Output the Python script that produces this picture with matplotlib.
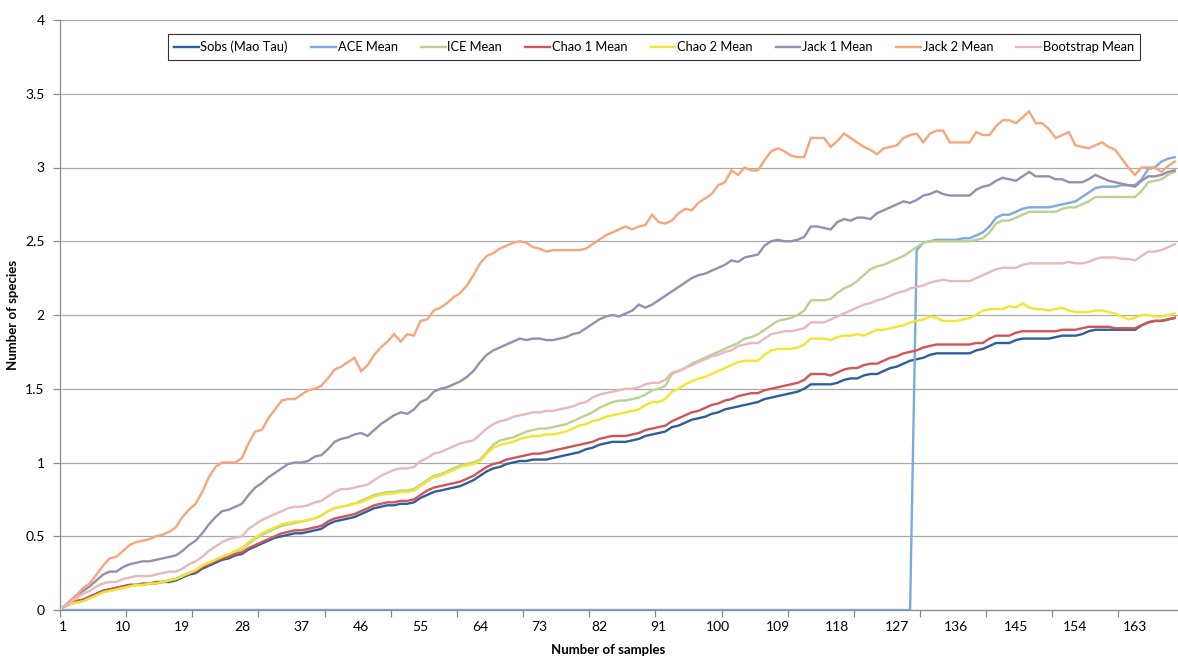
import numpy as np
import matplotlib
matplotlib.use("Agg")
import matplotlib.pyplot as plt
from matplotlib.ticker import FixedLocator, FixedFormatter

plt.rcParams['font.family'] = ['Lato', 'DejaVu Sans']

samples = np.arange(1, 170)

sobs = [
    0.02, 0.04, 0.06, 0.07, 0.09, 0.11, 0.13, 0.14, 0.15, 0.16,
    0.17, 0.17, 0.17, 0.18, 0.18, 0.19, 0.19, 0.20, 0.22, 0.24,
    0.25, 0.28, 0.30, 0.32, 0.34, 0.35, 0.37, 0.38, 0.41, 0.43,
    0.45, 0.47, 0.49, 0.50, 0.51, 0.52, 0.52, 0.53, 0.54, 0.55,
    0.58, 0.60, 0.61, 0.62, 0.63, 0.65, 0.67, 0.69, 0.70, 0.71,
    0.71, 0.72, 0.72, 0.73, 0.76, 0.78, 0.80, 0.81, 0.82, 0.83,
    0.84, 0.86, 0.88, 0.91, 0.94, 0.96, 0.97, 0.99, 1.00, 1.01,
    1.01, 1.02, 1.02, 1.02, 1.03, 1.04, 1.05, 1.06, 1.07, 1.09,
    1.10, 1.12, 1.13, 1.14, 1.14, 1.14, 1.15, 1.16, 1.18, 1.19,
    1.20, 1.21, 1.24, 1.25, 1.27, 1.29, 1.30, 1.31, 1.33, 1.34,
    1.36, 1.37, 1.38, 1.39, 1.40, 1.41, 1.43, 1.44, 1.45, 1.46,
    1.47, 1.48, 1.50, 1.53, 1.53, 1.53, 1.53, 1.54, 1.56, 1.57,
    1.57, 1.59, 1.60, 1.60, 1.62, 1.64, 1.65, 1.67, 1.69, 1.70,
    1.71, 1.73, 1.74, 1.74, 1.74, 1.74, 1.74, 1.74, 1.76, 1.77,
    1.79, 1.81, 1.81, 1.81, 1.83, 1.84, 1.84, 1.84, 1.84, 1.84,
    1.85, 1.86, 1.86, 1.86, 1.87, 1.89, 1.90, 1.90, 1.90, 1.90,
    1.90, 1.90, 1.90, 1.93, 1.95, 1.96, 1.96, 1.97, 1.98,
]

ace = [0.0] * 129 + [
    2.44,
    2.49, 2.50, 2.51, 2.51, 2.51, 2.51, 2.52, 2.52, 2.54, 2.56,
    2.60, 2.66, 2.68, 2.68, 2.70, 2.72, 2.73, 2.73, 2.73, 2.73,
    2.74, 2.75, 2.76, 2.77, 2.80, 2.83, 2.86, 2.87, 2.87, 2.87,
    2.88, 2.88, 2.88, 2.92, 2.99, 3.00, 3.04, 3.06, 3.07,
]

ice = [
    0.02, 0.04, 0.05, 0.06, 0.08, 0.10, 0.12, 0.13, 0.14, 0.15,
    0.16, 0.17, 0.17, 0.18, 0.18, 0.19, 0.20, 0.21, 0.23, 0.25,
    0.27, 0.30, 0.32, 0.34, 0.36, 0.37, 0.39, 0.41, 0.45, 0.48,
    0.51, 0.53, 0.55, 0.57, 0.58, 0.59, 0.60, 0.61, 0.62, 0.64,
    0.67, 0.69, 0.70, 0.71, 0.72, 0.74, 0.76, 0.78, 0.79, 0.80,
    0.80, 0.81, 0.81, 0.82, 0.85, 0.88, 0.91, 0.92, 0.94, 0.96,
    0.98, 0.99, 1.00, 1.02, 1.07, 1.12, 1.15, 1.16, 1.17, 1.19,
    1.21, 1.22, 1.23, 1.23, 1.24, 1.25, 1.26, 1.28, 1.30, 1.32,
    1.34, 1.37, 1.39, 1.41, 1.42, 1.42, 1.43, 1.44, 1.46, 1.49,
    1.50, 1.52, 1.60, 1.62, 1.64, 1.67, 1.69, 1.71, 1.73, 1.75,
    1.77, 1.79, 1.81, 1.84, 1.85, 1.87, 1.90, 1.93, 1.96, 1.97,
    1.98, 2.00, 2.03, 2.10, 2.10, 2.10, 2.11, 2.15, 2.18, 2.20,
    2.23, 2.27, 2.31, 2.33, 2.34, 2.36, 2.38, 2.40, 2.43, 2.46,
    2.49, 2.50, 2.50, 2.50, 2.50, 2.50, 2.50, 2.50, 2.51, 2.52,
    2.56, 2.62, 2.64, 2.64, 2.66, 2.68, 2.70, 2.70, 2.70, 2.70,
    2.70, 2.72, 2.73, 2.73, 2.75, 2.77, 2.80, 2.80, 2.80, 2.80,
    2.80, 2.80, 2.80, 2.84, 2.90, 2.91, 2.92, 2.95, 2.97,
]

chao1 = [
    0.02, 0.04, 0.06, 0.07, 0.09, 0.11, 0.13, 0.14, 0.15, 0.16,
    0.17, 0.17, 0.18, 0.18, 0.19, 0.19, 0.20, 0.21, 0.23, 0.25,
    0.26, 0.29, 0.31, 0.33, 0.35, 0.36, 0.38, 0.39, 0.42, 0.44,
    0.46, 0.48, 0.50, 0.52, 0.53, 0.54, 0.54, 0.55, 0.56, 0.57,
    0.60, 0.62, 0.63, 0.64, 0.65, 0.67, 0.69, 0.71, 0.72, 0.73,
    0.73, 0.74, 0.74, 0.75, 0.78, 0.81, 0.83, 0.84, 0.85, 0.86,
    0.87, 0.89, 0.91, 0.94, 0.97, 0.99, 1.00, 1.02, 1.03, 1.04,
    1.05, 1.06, 1.06, 1.07, 1.08, 1.09, 1.10, 1.11, 1.12, 1.13,
    1.14, 1.16, 1.17, 1.18, 1.18, 1.18, 1.19, 1.20, 1.22, 1.23,
    1.24, 1.25, 1.28, 1.30, 1.32, 1.34, 1.35, 1.37, 1.39, 1.40,
    1.42, 1.43, 1.45, 1.46, 1.47, 1.47, 1.49, 1.50, 1.51, 1.52,
    1.53, 1.54, 1.56, 1.60, 1.60, 1.60, 1.59, 1.61, 1.63, 1.64,
    1.64, 1.66, 1.67, 1.67, 1.69, 1.71, 1.72, 1.74, 1.75, 1.76,
    1.78, 1.79, 1.80, 1.80, 1.80, 1.80, 1.80, 1.80, 1.81, 1.81,
    1.84, 1.86, 1.86, 1.86, 1.88, 1.89, 1.89, 1.89, 1.89, 1.89,
    1.89, 1.90, 1.90, 1.90, 1.91, 1.92, 1.92, 1.92, 1.92, 1.91,
    1.91, 1.91, 1.91, 1.93, 1.95, 1.96, 1.96, 1.97, 1.98,
]

chao2 = [
    0.02, 0.04, 0.05, 0.06, 0.08, 0.10, 0.12, 0.13, 0.14, 0.15,
    0.16, 0.17, 0.17, 0.18, 0.18, 0.19, 0.20, 0.21, 0.23, 0.25,
    0.27, 0.30, 0.32, 0.34, 0.36, 0.38, 0.40, 0.42, 0.46, 0.49,
    0.52, 0.54, 0.56, 0.58, 0.59, 0.60, 0.60, 0.61, 0.62, 0.64,
    0.67, 0.69, 0.70, 0.71, 0.72, 0.73, 0.75, 0.77, 0.78, 0.79,
    0.79, 0.80, 0.80, 0.81, 0.84, 0.87, 0.90, 0.91, 0.93, 0.95,
    0.97, 0.98, 0.99, 1.01, 1.06, 1.10, 1.12, 1.13, 1.14, 1.16,
    1.17, 1.18, 1.18, 1.19, 1.19, 1.20, 1.21, 1.23, 1.25, 1.26,
    1.28, 1.29, 1.31, 1.32, 1.33, 1.34, 1.35, 1.36, 1.39, 1.41,
    1.41, 1.43, 1.48, 1.50, 1.53, 1.55, 1.57, 1.58, 1.60, 1.62,
    1.64, 1.66, 1.68, 1.69, 1.69, 1.69, 1.73, 1.76, 1.77, 1.77,
    1.77, 1.78, 1.80, 1.84, 1.84, 1.84, 1.83, 1.85, 1.86, 1.86,
    1.87, 1.86, 1.88, 1.90, 1.90, 1.91, 1.92, 1.93, 1.95, 1.96,
    1.97, 1.99, 1.98, 1.96, 1.96, 1.96, 1.97, 1.98, 2.00, 2.03,
    2.04, 2.04, 2.04, 2.06, 2.05, 2.08, 2.05, 2.04, 2.04, 2.03,
    2.04, 2.05, 2.03, 2.02, 2.02, 2.02, 2.03, 2.03, 2.02, 2.01,
    1.99, 1.97, 1.98, 2.00, 2.00, 1.99, 1.99, 2.00, 2.01,
]

jack1 = [
    0.02, 0.06, 0.10, 0.13, 0.16, 0.20, 0.24, 0.26, 0.26, 0.29,
    0.31, 0.32, 0.33, 0.33, 0.34, 0.35, 0.36, 0.37, 0.40, 0.44,
    0.47, 0.52, 0.58, 0.63, 0.67, 0.68, 0.70, 0.72, 0.78, 0.83,
    0.86, 0.90, 0.93, 0.96, 0.99, 1.00, 1.00, 1.01, 1.04, 1.05,
    1.09, 1.14, 1.16, 1.17, 1.19, 1.20, 1.18, 1.22, 1.26, 1.29,
    1.32, 1.34, 1.33, 1.36, 1.41, 1.43, 1.48, 1.50, 1.51, 1.53,
    1.55, 1.58, 1.62, 1.68, 1.73, 1.76, 1.78, 1.80, 1.82, 1.84,
    1.83, 1.84, 1.84, 1.83, 1.83, 1.84, 1.85, 1.87, 1.88, 1.91,
    1.94, 1.97, 1.99, 2.00, 1.99, 2.01, 2.03, 2.07, 2.05, 2.07,
    2.10, 2.13, 2.16, 2.19, 2.22, 2.25, 2.27, 2.28, 2.30, 2.32,
    2.34, 2.37, 2.36, 2.39, 2.40, 2.41, 2.47, 2.50, 2.51, 2.50,
    2.50, 2.51, 2.53, 2.60, 2.60, 2.59, 2.58, 2.63, 2.65, 2.64,
    2.66, 2.66, 2.65, 2.69, 2.71, 2.73, 2.75, 2.77, 2.76, 2.78,
    2.81, 2.82, 2.84, 2.82, 2.81, 2.81, 2.81, 2.81, 2.85, 2.87,
    2.88, 2.91, 2.93, 2.92, 2.91, 2.94, 2.97, 2.94, 2.94, 2.94,
    2.92, 2.92, 2.90, 2.90, 2.90, 2.92, 2.95, 2.93, 2.91, 2.90,
    2.89, 2.88, 2.87, 2.91, 2.94, 2.94, 2.95, 2.97, 2.98,
]

jack2 = [
    0.02, 0.06, 0.10, 0.15, 0.18, 0.24, 0.30, 0.35, 0.36, 0.40,
    0.44, 0.46, 0.47, 0.48, 0.50, 0.51, 0.53, 0.56, 0.63, 0.68,
    0.72, 0.80, 0.90, 0.97, 1.00, 1.00, 1.00, 1.03, 1.13, 1.21,
    1.22, 1.30, 1.36, 1.42, 1.43, 1.43, 1.46, 1.49, 1.50, 1.52,
    1.57, 1.63, 1.65, 1.68, 1.71, 1.62, 1.66, 1.73, 1.78, 1.82,
    1.87, 1.82, 1.87, 1.86, 1.96, 1.97, 2.03, 2.05, 2.08, 2.12,
    2.15, 2.20, 2.27, 2.35, 2.40, 2.42, 2.45, 2.47, 2.49, 2.50,
    2.49, 2.46, 2.45, 2.43, 2.44, 2.44, 2.44, 2.44, 2.44, 2.45,
    2.48, 2.51, 2.54, 2.56, 2.58, 2.60, 2.58, 2.60, 2.61, 2.68,
    2.63, 2.62, 2.64, 2.69, 2.72, 2.71, 2.76, 2.79, 2.82, 2.88,
    2.90, 2.98, 2.95, 3.00, 2.98, 2.98, 3.05, 3.11, 3.13, 3.11,
    3.08, 3.07, 3.07, 3.20, 3.20, 3.20, 3.14, 3.18, 3.23, 3.20,
    3.17, 3.14, 3.12, 3.09, 3.13, 3.14, 3.15, 3.20, 3.22, 3.23,
    3.17, 3.23, 3.25, 3.25, 3.17, 3.17, 3.17, 3.17, 3.24, 3.22,
    3.22, 3.28, 3.32, 3.32, 3.30, 3.34, 3.38, 3.30, 3.30, 3.26,
    3.20, 3.22, 3.24, 3.15, 3.14, 3.13, 3.15, 3.17, 3.14, 3.12,
    3.06, 3.00, 2.95, 3.00, 3.00, 3.00, 2.97, 3.01, 3.04,
]

bootstrap = [
    0.02, 0.05, 0.08, 0.11, 0.13, 0.16, 0.18, 0.19, 0.19, 0.21,
    0.22, 0.23, 0.23, 0.23, 0.24, 0.25, 0.26, 0.26, 0.28, 0.31,
    0.33, 0.36, 0.40, 0.43, 0.46, 0.48, 0.49, 0.50, 0.55, 0.58,
    0.61, 0.63, 0.65, 0.67, 0.69, 0.70, 0.70, 0.71, 0.73, 0.74,
    0.77, 0.80, 0.82, 0.82, 0.83, 0.84, 0.85, 0.88, 0.91, 0.93,
    0.95, 0.96, 0.96, 0.97, 1.01, 1.03, 1.06, 1.07, 1.09, 1.11,
    1.13, 1.14, 1.15, 1.19, 1.23, 1.26, 1.28, 1.29, 1.31, 1.32,
    1.33, 1.34, 1.34, 1.35, 1.35, 1.36, 1.37, 1.38, 1.40, 1.41,
    1.44, 1.46, 1.47, 1.48, 1.49, 1.50, 1.50, 1.51, 1.53, 1.54,
    1.54, 1.56, 1.61, 1.62, 1.64, 1.66, 1.68, 1.70, 1.72, 1.73,
    1.75, 1.76, 1.79, 1.80, 1.81, 1.81, 1.84, 1.87, 1.88, 1.89,
    1.89, 1.90, 1.91, 1.95, 1.95, 1.95, 1.97, 1.99, 2.01, 2.03,
    2.05, 2.07, 2.08, 2.10, 2.11, 2.13, 2.15, 2.16, 2.18, 2.19,
    2.20, 2.22, 2.23, 2.24, 2.23, 2.23, 2.23, 2.23, 2.25, 2.27,
    2.29, 2.31, 2.32, 2.32, 2.32, 2.34, 2.35, 2.35, 2.35, 2.35,
    2.35, 2.35, 2.36, 2.35, 2.35, 2.36, 2.38, 2.39, 2.39, 2.39,
    2.38, 2.38, 2.37, 2.40, 2.43, 2.43, 2.44, 2.46, 2.48,
]

names = ['Sobs (Mao Tau)', 'ACE Mean', 'ICE Mean', 'Chao 1 Mean',
         'Chao 2 Mean', 'Jack 1 Mean', 'Jack 2 Mean', 'Bootstrap Mean']
series = [sobs, ace, ice, chao1, chao2, jack1, jack2, bootstrap]
colors = ['#2F5E9C', '#7EA8E0', '#B9D290', '#CF5558',
          '#F4E530', '#948FAE', '#F7A57A', '#E9B8BA']

label_pos = np.arange(1, 170, 9)
tick_pos = np.arange(0.5, 170, 10)
y_ticks = [0, 0.5, 1, 1.5, 2, 2.5, 3, 3.5, 4]
y_labels = ['0', '0.5', '1', '1.5', '2', '2.5', '3', '3.5', '4']

fig = plt.figure(figsize=(11.78, 6.6), dpi=100)
ax = fig.add_axes([60 / 1178, 50 / 660, 1118 / 1178, 590 / 660])

for i, (name, vals, c) in enumerate(zip(names, series, colors)):
    ax.plot(samples, vals, color=c, lw=1.7, label=name, zorder=3 + i,
            solid_joinstyle='miter')

ax.set_xlim(0.5, 169.5)
ax.set_ylim(0, 4)

ax.set_yticks(y_ticks)
ax.set_yticklabels(y_labels)
ax.yaxis.grid(True, color='#ABABAB', lw=0.9)
ax.set_axisbelow(True)

# labels sit on the categories, tick marks fall between every tenth one
ax.xaxis.set_major_locator(FixedLocator(label_pos))
ax.xaxis.set_major_formatter(FixedFormatter([str(v) for v in label_pos]))
ax.xaxis.set_minor_locator(FixedLocator(tick_pos))
ax.tick_params(axis='x', which='major', length=0, pad=8, labelsize=10)
ax.tick_params(axis='x', which='minor', length=5, color='#8C8C8C', width=0.9)
ax.tick_params(axis='y', length=5, color='#8C8C8C', width=0.9, pad=6,
               labelsize=10)

for side in ['top', 'right']:
    ax.spines[side].set_visible(False)
for side in ['left', 'bottom']:
    ax.spines[side].set_color('#8C8C8C')
    ax.spines[side].set_linewidth(0.9)

ax.set_xlabel('Number of samples', fontsize=9.5, fontweight='bold')
ax.xaxis.set_label_coords(0.49, -0.058)
ax.set_ylabel('Number of species', fontsize=9.5, fontweight='bold')
ax.yaxis.set_label_coords(-0.037, 0.5)

leg = fig.legend(loc='center', bbox_to_anchor=(654 / 1178, 1 - 47 / 660),
                 ncol=8, frameon=True, fancybox=False, fontsize=9.3,
                 handlelength=1.9, handletextpad=0.15, columnspacing=1.8,
                 borderpad=0.5, borderaxespad=0)
leg.get_frame().set_edgecolor('#000000')
leg.get_frame().set_linewidth(0.8)

fig.savefig('out.png', dpi=100)
